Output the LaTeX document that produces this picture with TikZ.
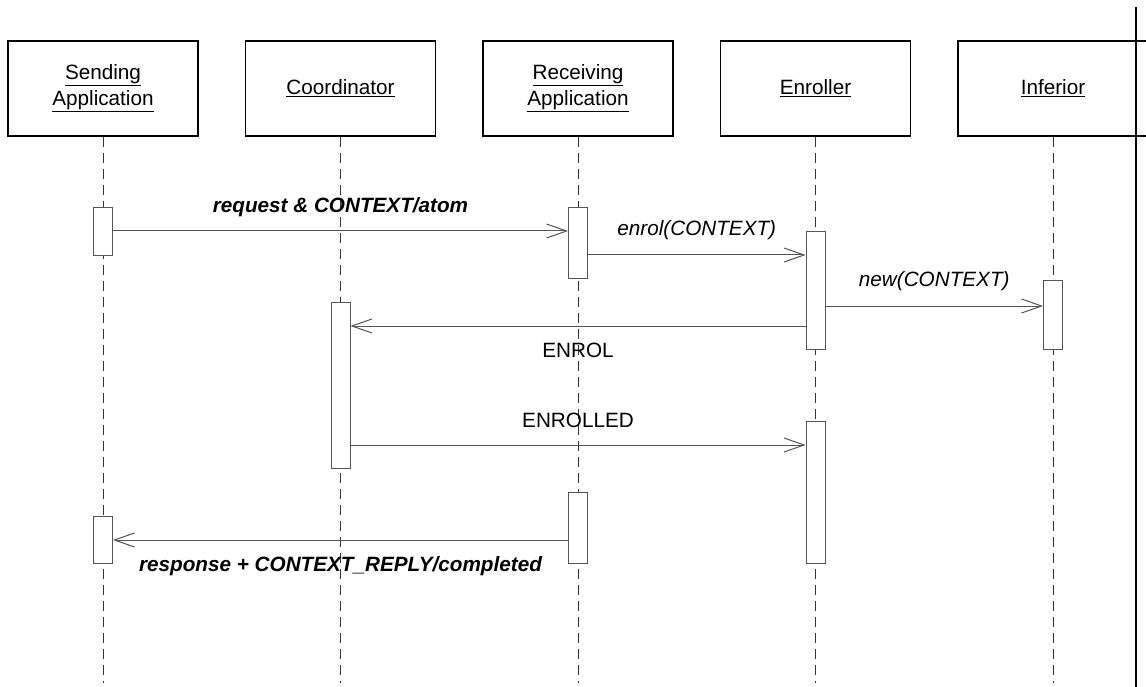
\documentclass[tikz,border=0pt]{standalone}
\usepackage{fontspec}
\setmainfont{Liberation Sans}
\usetikzlibrary{positioning,arrows.meta}
\definecolor{msggray}{RGB}{85,85,85}
\definecolor{lifegray}{RGB}{55,55,55}
\tikzset{
  actor/.style={draw, line width=1.2pt, minimum width=190pt, minimum height=95pt, align=center, font=\fontsize{20.7}{26}\selectfont},
  lifeline/.style={lifegray, dash pattern=on 10pt off 6pt, line width=0.9pt},
  act/.style={draw=msggray, fill=white, minimum width=19pt, inner sep=0pt, line width=0.9pt},
  msg/.style={msggray, line width=1pt, -{Straight Barb[length=20pt,width=14pt]}},
  lbl/.style={font=\fontsize{20.7}{24}\selectfont, text=black, inner sep=0pt, text height=15pt, text depth=0pt},
}
\begin{document}
\begin{tikzpicture}[x=1pt,y=-1pt]
    \useasboundingbox (0,0) rectangle (1146,687);
    % objects
    \node[actor] (sa) at (103,88.5) {\underline{Sending}\\\underline{Application}};
    \node[actor, right=46.3pt of sa] (co) {\underline{Coordinator}};
    \node[actor, right=46.3pt of co] (ra) {\underline{Receiving}\\\underline{Application}};
    \node[actor, right=46.3pt of ra] (en) {\underline{Enroller}};
    \node[actor, right=46.3pt of en] (in) {\underline{Inferior}};
    \draw[line width=2pt] (1136,7) -- (1136,687);
    % lifelines
    \foreach \o in {sa,co,ra,en,in}
        \draw[lifeline] (\o.south) -- (\o.south |- 0,683);
    % activations
    \node[act, minimum height=48pt] (sa1) at (sa.south |- 0,231) {};
    \node[act, minimum height=71pt] (ra1) at (ra.south |- 0,242.5) {};
    \node[act, minimum height=118pt] (en1) at (en.south |- 0,290) {};
    \node[act, minimum height=69pt] (in1) at (in.south |- 0,314.5) {};
    \node[act, minimum height=166pt] (co1) at (co.south |- 0,385) {};
    \node[act, minimum height=142pt] (en2) at (en.south |- 0,492) {};
    \node[act, minimum height=71pt] (ra2) at (ra.south |- 0,527.5) {};
    \node[act, minimum height=47pt] (sa2) at (sa.south |- 0,539.5) {};
    % messages
    \draw[msg] (sa1.east) -- (sa1.east -| ra1.west)
        node[lbl, midway, above=18pt] {\bfseries\itshape request \& CONTEXT/atom};
    \draw[msg] (ra1.east |- 0,255) -- (en1.west |- 0,255)
        node[lbl, midway, above=19pt] {\itshape enrol(CONTEXT)};
    \draw[msg] (en1.east |- 0,306) -- (in1.west |- 0,306)
        node[lbl, midway, above=19pt] {\itshape new(CONTEXT)};
    \draw[msg] (en1.west |- 0,326) -- (co1.east |- 0,326)
        node[lbl, midway, below=16pt] {ENROL};
    \draw[msg] (co1.east |- 0,445) -- (en2.west |- 0,445)
        node[lbl, midway, above=17pt] {ENROLLED};
    \draw[msg] (ra2.west |- 0,540) -- (sa2.east |- 0,540)
        node[lbl, midway, below=16pt] {\bfseries\itshape response + CONTEXT\_REPLY/completed};
\end{tikzpicture}
\end{document}
